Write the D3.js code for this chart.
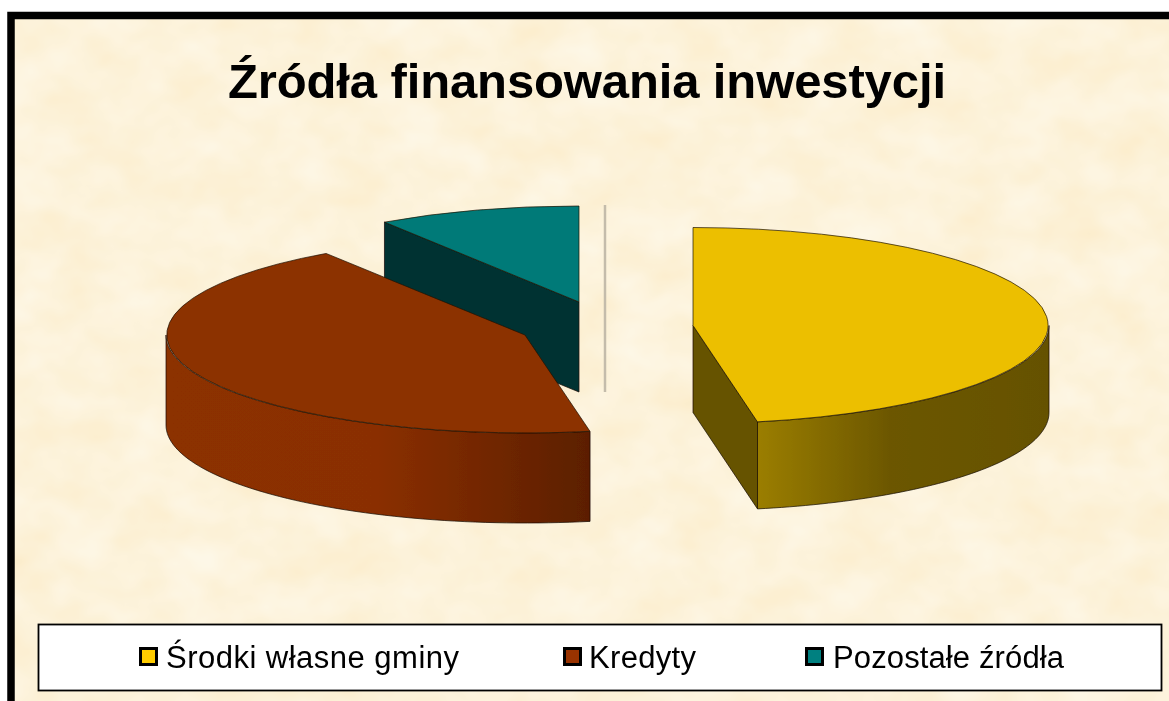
<!DOCTYPE html>
<html><head><meta charset="utf-8">
<script src="https://cdn.jsdelivr.net/npm/d3@7"></script>
<style>html,body{margin:0;padding:0;background:#fff}svg{display:block}</style>
</head><body><svg id="c" width="1169" height="701"></svg>
<script>
const chartTitle = "Źródła finansowania inwestycji";
const categories = ["Środki własne gminy", "Kredyty", "Pozostałe źródła"];
const values = [47.1, 43.55, 9.35];
const topColors = ["#ecbf00", "#8c3000", "#007a78"];
const swatchColors = ["#ffcc00", "#993300", "#008080"];
const innerColors = ["#665200", "#5c1f00", "#003333"];
const legendX = [139, 563, 805];
const legendTextX = [166, 589, 833];
const legendTextW = [293, 107, 231];

// Exploded slice geometry, [cx, cy, rx, ry, depth]
const geom = [[693,325.5,356,98,87],[525,335,359,98,90],[579,302,351,96,90]];

const svg = d3.select("#c");
const defs = svg.append("defs");

const f = defs.append("filter").attr("id","paper").attr("x",0).attr("y",0).attr("width","100%").attr("height","100%")
  .attr("color-interpolation-filters","sRGB");
f.append("feTurbulence").attr("type","fractalNoise").attr("baseFrequency","0.018 0.024").attr("numOctaves",3).attr("seed",7).attr("result","n");
f.append("feColorMatrix").attr("in","n").attr("type","matrix")
 .attr("values","0.01 0 0 0 0.985  0.05 0 0 0 0.925  0.13 0 0 0 0.79  0 0 0 0 1");
defs.append("filter").attr("id","soft").append("feGaussianBlur").attr("stdDeviation",0.5);
defs.append("filter").attr("id","edge").append("feGaussianBlur").attr("stdDeviation",0.35);

function grad(id, x1, x2, stops){
  const g = defs.append("linearGradient").attr("id",id).attr("gradientUnits","userSpaceOnUse")
    .attr("x1",x1).attr("x2",x2).attr("y1",0).attr("y2",0);
  stops.forEach(s=>g.append("stop").attr("offset",s[0]).attr("stop-color",s[1]));
}
grad("sideY",760,1049,[[0,"#9a7d00"],[0.45,"#6c5700"],[1,"#655100"]]);
grad("sideR",166,588,[[0,"#8c3000"],[0.5,"#8a2f00"],[1,"#5c1f00"]]);

// paper and frame
svg.append("rect").attr("x",8).attr("y",15).attr("width",1161).attr("height",686).attr("filter","url(#paper)");
svg.append("path").attr("d","M11 701V15.5H1169").attr("fill","none").attr("stroke","#000").attr("stroke-width",7.5);

// title
svg.append("text").attr("x",228).attr("y",98).attr("textLength",718).attr("lengthAdjust","spacing")
  .attr("font-family","Liberation Sans").attr("font-weight","bold").attr("font-size",49).attr("fill","#000")
  .attr("filter","url(#soft)").text(chartTitle);

const arcs = d3.pie().sort(null)(values);
const pt = (g,a,dz=0)=>[g[0]+g[2]*Math.sin(a), g[1]-g[3]*Math.cos(a)+dz];
const lineGen = d3.line();
const arcGen = d3.arc().innerRadius(0).outerRadius(1);
const chart = svg.append("g").attr("filter","url(#edge)");

function samples(a0,a1){ return d3.range(0,61).map(i=>a0+(a1-a0)*i/60); }

function sidePath(g,a0,a1){
  const as = samples(a0,a1);
  return lineGen([...as.map(a=>pt(g,a)), ...as.slice().reverse().map(a=>pt(g,a,g[4]))])+"Z";
}
function drawTop(i){
  const g = geom[i];
  chart.append("path")
    .attr("transform",`translate(${g[0]},${g[1]}) scale(${g[2]},${g[3]})`)
    .attr("d",arcGen(arcs[i]))
    .attr("fill",topColors[i]).attr("stroke","#1e1200").attr("stroke-opacity",.7)
    .attr("vector-effect","non-scaling-stroke").attr("stroke-width",1);
}
function face(d,fill){
  chart.append("path").attr("d",d).attr("fill",fill).attr("stroke","#140c00").attr("stroke-opacity",.7).attr("stroke-width",1);
}

// Pale sliver between the slices
chart.append("line").attr("x1",605).attr("x2",605).attr("y1",205).attr("y2",392).attr("stroke","#c4bcab").attr("stroke-width",2.5);

// Teal slice (back)
{
  const g = geom[2], a = arcs[2].startAngle;
  const p = pt(g,a), q = pt(g,a,g[4]);
  face(lineGen([p,[g[0],g[1]],[g[0],g[1]+g[4]],q])+"Z", innerColors[2]);
  drawTop(2);
}
// Red slice
{
  const g = geom[1], a = arcs[1];
  face(sidePath(g,a.startAngle,1.5*Math.PI),"url(#sideR)");
  drawTop(1);
}
// Yellow slice
{
  const g = geom[0], a = arcs[0];
  const e = pt(g,a.endAngle), e2 = pt(g,a.endAngle,g[4]);
  face(lineGen([[g[0],g[1]],e,e2,[g[0],g[1]+g[4]]])+"Z", innerColors[0]);
  face(sidePath(g,Math.PI/2,a.endAngle),"url(#sideY)");
  drawTop(0);
}

// legend
svg.append("rect").attr("x",38.5).attr("y",624.5).attr("width",1123).attr("height",66).attr("fill","#fff").attr("stroke","#000").attr("stroke-width",1.8);
categories.forEach((c,i)=>{
  svg.append("rect").attr("x",legendX[i]+1.5).attr("y",648.5).attr("width",16).attr("height",16)
    .attr("fill",swatchColors[i]).attr("stroke","#000").attr("stroke-width",3);
  svg.append("text").attr("x",legendTextX[i]).attr("y",668).attr("textLength",legendTextW[i]).attr("lengthAdjust","spacing")
    .attr("font-family","Liberation Sans").attr("font-size",31).attr("fill","#000").attr("filter","url(#soft)").text(c);
});
</script></body></html>
